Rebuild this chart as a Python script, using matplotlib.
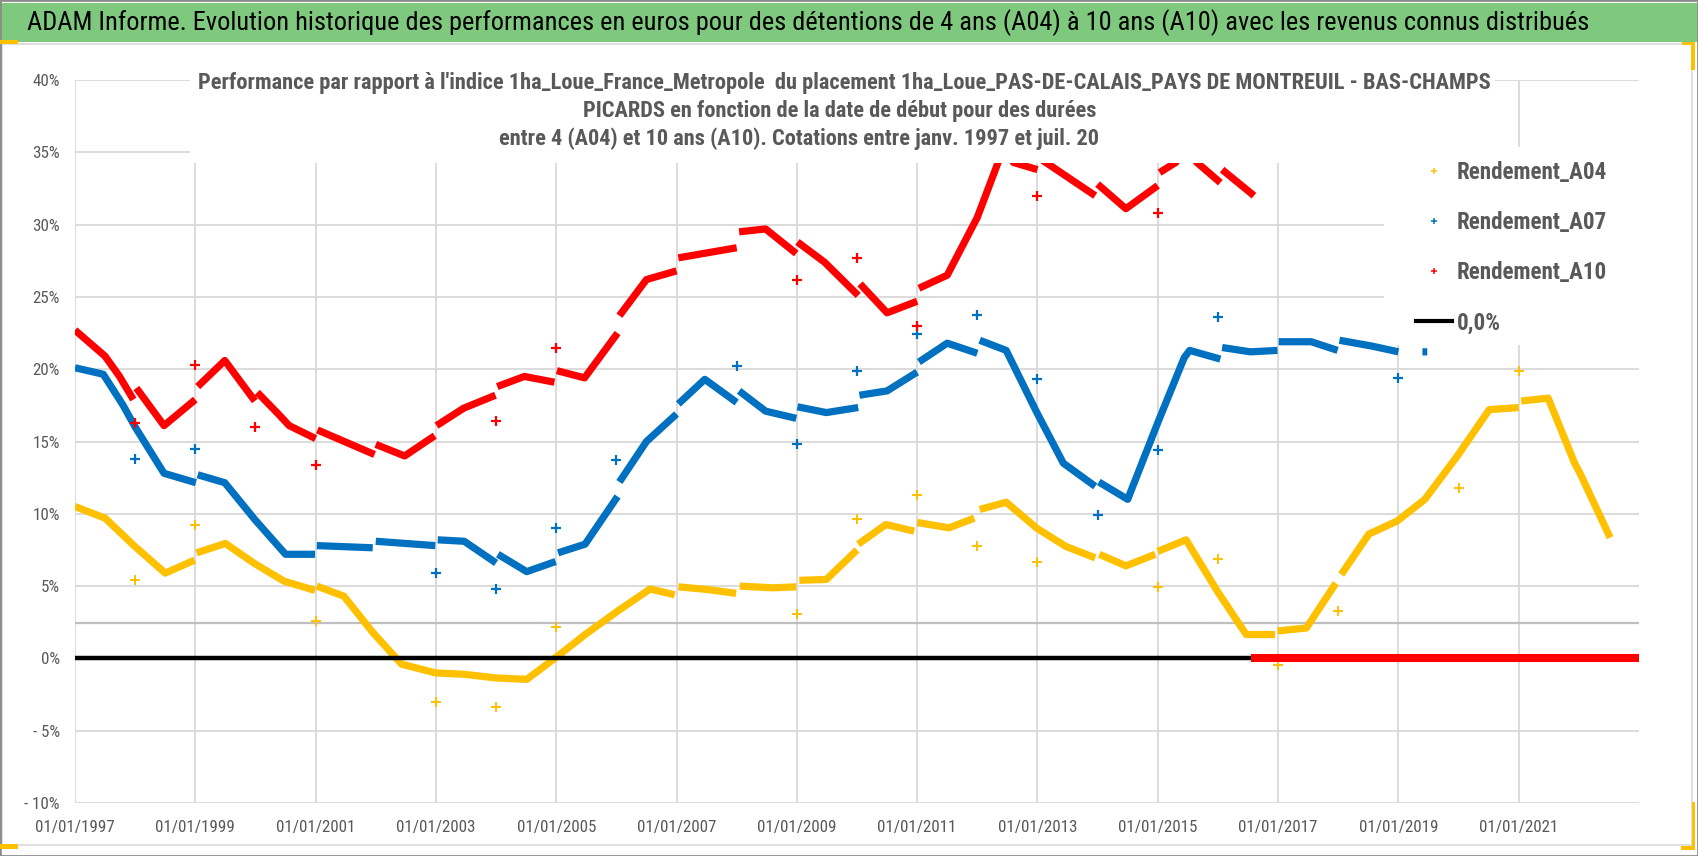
import numpy as np
import matplotlib
matplotlib.use("Agg")
import matplotlib.pyplot as plt
from matplotlib import font_manager
from matplotlib.patches import Rectangle
from matplotlib.lines import Line2D
from matplotlib.ticker import FixedLocator, FuncFormatter

nan = np.nan

# Rendement_A04 (yellow) - vertices, nan = visible break
a04_x = [1997.0, 1997.5, 1997.98, 1998.5, 1998.99, nan, 1999.02, 1999.5, 1999.97, 2000.47, 2000.99, nan,
         2001.02, 2001.47, 2001.95, 2002.43, 2002.99, 2003.47, 2004.0, 2004.51, 2004.99, 2005.48, 2006.03,
         2006.56, 2006.97, nan, 2007.03, 2007.5, 2007.99, nan, 2008.05, 2008.6, 2008.99, nan, 2009.04,
         2009.49, 2010.0, nan, 2010.02, 2010.48, 2010.95, nan, 2011.0, 2011.53, 2011.95, nan, 2012.04,
         2012.48, 2012.99, 2013.47, 2013.96, nan, 2014.03, 2014.47, 2014.96, nan, 2015.0, 2015.47, 2015.99,
         2016.47, 2016.95, nan, 2016.99, 2017.47, 2017.96, nan, 2018.05, 2018.51, 2018.98, 2019.44, 2019.98,
         2020.51, 2021.0, nan, 2021.04, 2021.49, 2021.93, 2022.02, 2022.52]
a04_y = [10.5, 9.7, 7.8, 5.9, 6.8, nan, 7.3, 7.95, 6.6, 5.35, 4.7, nan,
         5.0, 4.3, 1.8, -0.4, -1.0, -1.1, -1.35, -1.45, 0.05, 1.65, 3.3,
         4.8, 4.4, nan, 4.95, 4.77, 4.5, nan, 5.0, 4.88, 4.95, nan, 5.4,
         5.46, 7.5, nan, 7.9, 9.26, 8.8, nan, 9.4, 9.03, 9.7, nan, 10.3,
         10.8, 9.0, 7.75, 6.95, nan, 7.2, 6.4, 7.2, nan, 7.4, 8.2, 4.65,
         1.65, 1.65, nan, 1.9, 2.1, 5.2, nan, 5.8, 8.6, 9.5, 11.0, 14.0,
         17.2, 17.35, nan, 17.8, 18.0, 13.5, 12.8, 8.35]
a04_out_x = [1998, 1999, 2001, 2003, 2004, 2005, 2009, 2010, 2011, 2012, 2013, 2015, 2016, 2017, 2018, 2020, 2021]
a04_out_y = [5.4, 9.2, 2.6, -3.0, -3.35, 2.2, 3.05, 9.65, 11.3, 7.8, 6.7, 4.95, 6.85, -0.45, 3.3, 11.8, 19.9]

# Rendement_A07 (blue)
a07_x = [1997.0, 1997.47, 1997.8, 1998.0, 1998.48, 1999.01, nan, 1999.04, 1999.49, 1999.99, 2000.5, 2000.99, nan,
         2001.02, 2001.95, nan, 2002.0, 2002.99, nan, 2003.03, 2003.47, 2004.0, nan, 2004.03, 2004.51, 2004.99, nan,
         2005.03, 2005.48, 2006.02, nan, 2006.05, 2006.5, 2007.0, nan, 2007.03, 2007.47, 2008.0, nan, 2008.04,
         2008.48, 2008.99, nan, 2009.01, 2009.49, 2010.02, nan, 2010.04, 2010.5, 2011.0, nan, 2011.03, 2011.5,
         2012.0, nan, 2012.04, 2012.48, 2012.99, 2013.43, 2013.96, nan, 2014.02, 2014.5, 2015.0, 2015.44, 2015.53,
         2016.04, nan, 2016.07, 2016.54, 2016.99, nan, 2017.01, 2017.55, 2017.99, nan, 2018.02, 2018.56, 2019.0,
         nan, 2019.40, 2019.48]
a07_y = [20.1, 19.65, 17.5, 16.0, 12.8, 12.15, nan, 12.7, 12.15, 9.6, 7.2, 7.2, nan,
         7.8, 7.65, nan, 8.1, 7.8, nan, 8.2, 8.1, 6.6, nan, 7.2, 6.0, 6.7, nan,
         7.3, 7.9, 11.2, nan, 12.2, 15.0, 16.9, nan, 17.6, 19.3, 17.7, nan, 18.5,
         17.1, 16.6, nan, 17.4, 17.0, 17.35, nan, 18.2, 18.5, 19.8, nan, 20.5, 21.8,
         21.1, nan, 22.0, 21.3, 17.0, 13.5, 11.9, nan, 12.2, 11.0, 16.3, 20.8, 21.3,
         20.7, nan, 21.5, 21.2, 21.3, nan, 21.9, 21.9, 21.3, nan, 22.0, 21.6, 21.2,
         nan, 21.2, 21.2]
a07_out_x = [1998, 1999, 2003, 2004, 2005, 2006, 2008, 2009, 2010, 2011, 2012, 2013, 2014, 2015, 2016, 2019]
a07_out_y = [13.8, 14.5, 5.9, 4.8, 9.0, 13.7, 20.2, 14.85, 19.9, 22.4, 23.75, 19.3, 9.9, 14.4, 23.6, 19.4]

# Rendement_A10 (red)
a10_x = [1997.0, 1997.5, 1997.74, 1997.97, nan, 1998.02, 1998.48, 1999.0, nan, 1999.04, 1999.49, 1999.99, nan,
         2000.03, 2000.38, 2000.56, 2001.0, nan, 2001.03, 2001.98, nan, 2002.0, 2002.48, 2002.98, nan, 2003.01,
         2003.46, 2003.99, nan, 2004.02, 2004.47, 2004.97, nan, 2005.01, 2005.47, 2006.02, nan, 2006.05, 2006.5,
         2007.0, nan, 2007.03, 2008.0, nan, 2008.04, 2008.48, 2008.99, nan, 2009.01, 2009.46, 2010.02, nan,
         2010.05, 2010.5, 2011.0, nan, 2011.03, 2011.5, 2012.0, 2012.5, 2012.6, 2013.0, nan, 2013.03, 2013.96, nan,
         2014.0, 2014.47, 2015.0, nan, 2015.03, 2015.3, 2015.48, 2015.65, 2016.04, nan, 2016.07, 2016.6]
a10_y = [22.7, 20.9, 19.5, 17.9, nan, 18.7, 16.1, 17.9, nan, 18.8, 20.6, 17.8, nan,
         18.4, 16.9, 16.1, 15.2, nan, 15.8, 14.1, nan, 14.8, 14.0, 15.4, nan, 16.1,
         17.3, 18.2, nan, 18.8, 19.5, 19.1, nan, 19.9, 19.4, 22.5, nan, 23.7, 26.2,
         26.8, nan, 27.7, 28.4, nan, 29.5, 29.7, 28.0, nan, 28.8, 27.4, 25.1, nan,
         25.9, 23.9, 24.7, nan, 25.6, 26.5, 30.5, 36.0, 34.3, 33.8, nan, 34.6, 32.0, nan,
         32.8, 31.1, 32.7, nan, 33.6, 34.3, 35.5, 34.3, 32.9, nan, 33.8, 32.0]
a10_out_x = [1998, 1999, 2000, 2001, 2004, 2005, 2009, 2010, 2011, 2013, 2015]
a10_out_y = [16.3, 20.3, 16.0, 13.4, 16.4, 21.5, 26.2, 27.7, 23.0, 32.0, 30.8]
# A10 values reported as 0 at the end of the period
a10_zero_x = [2016.55, 2023.0]
a10_zero_y = [0.0, 0.0]

zero_x = [1997.0, 2023.0]
zero_y = [0.0, 0.0]
ref_level = 2.45

labels = ["Rendement_A04", "Rendement_A07", "Rendement_A10", "0,0%"]
colors = ["#ffc000", "#0070c0", "#ff0000", "#000000"]

title = ("ADAM Informe. Evolution historique des performances en euros pour des détentions "
         "de 4 ans (A04) à 10 ans (A10) avec les revenus connus distribués")
sub_lines = ["Performance par rapport à l'indice 1ha_Loue_France_Metropole  du placement "
             "1ha_Loue_PAS-DE-CALAIS_PAYS DE MONTREUIL - BAS-CHAMPS",
             "PICARDS en fonction de la date de début pour des durées",
             "entre 4 (A04) et 10 ans (A10). Cotations entre janv. 1997 et juil. 20"]

# narrow face if one is around
names = {f.name for f in font_manager.fontManager.ttflist}
FONT = "DejaVu Sans"
for cand in ["Roboto Condensed", "Liberation Sans Narrow", "Open Sans Condensed"]:
    if cand in names:
        FONT = cand
        break
plt.rcParams["font.family"] = [FONT, "DejaVu Sans"]

W, H = 1698, 856


def fx(x):
    return x / W


def fy(y):
    return 1 - y / H


fig = plt.figure(figsize=(W / 100, H / 100), dpi=100)
fig.patch.set_facecolor("white")
renderer = fig.canvas.get_renderer()


def width_for(text, size, weight="normal"):
    t = fig.text(0, 0, text, fontsize=size, weight=weight)
    w = t.get_window_extent(renderer).width
    t.remove()
    return w


def fitted(text, target, weight="normal"):
    return 10 * target / width_for(text, 10, weight)


tick_size = fitted("01/01/1997", 79)
leg_size = fitted("Rendement_A04", 150, "bold")

ax = fig.add_axes([fx(75), fy(803), (1639 - 75) / W, (803 - 80) / H])
ax.set_xlim(1997, 2023)
ax.set_ylim(-10, 40)
ax.xaxis.set_major_locator(FixedLocator(list(range(1997, 2022, 2))))
ax.xaxis.set_major_formatter(FuncFormatter(lambda v, p: "01/01/%d" % round(v)))
ax.yaxis.set_major_locator(FixedLocator(list(range(-10, 41, 5))))
ax.yaxis.set_major_formatter(FuncFormatter(lambda v, p: ("- %d%%" % -v) if v < 0 else "%d%%" % v))
ax.grid(True, color="#d9d9d9", lw=1.3, zorder=0)
ax.set_axisbelow(True)
for s in ax.spines.values():
    s.set_visible(False)
ax.tick_params(length=0, labelsize=tick_size, labelcolor="#595959")
ax.tick_params(axis="x", pad=12)
ax.tick_params(axis="y", pad=11)

ax.axhline(ref_level, color="#bfbfbf", lw=1.6, zorder=1)

lw = 5.2
ax.plot(a04_x, a04_y, color=colors[0], lw=lw, solid_capstyle="butt", zorder=3)
ax.plot(a07_x, a07_y, color=colors[1], lw=lw, solid_capstyle="butt", zorder=3)
ax.plot(a10_x, a10_y, color=colors[2], lw=lw, solid_capstyle="butt", zorder=3)
ax.plot(a04_out_x, a04_out_y, ls="none", marker="+", ms=6.5, mew=1.4, color=colors[0], zorder=3)
ax.plot(a07_out_x, a07_out_y, ls="none", marker="+", ms=6.5, mew=1.6, color=colors[1], zorder=3)
ax.plot(a10_out_x, a10_out_y, ls="none", marker="+", ms=6.5, mew=1.6, color=colors[2], zorder=3)
ax.plot(zero_x, zero_y, color="black", lw=3.2, zorder=4)
ax.plot(a10_zero_x, a10_zero_y, color=colors[2], lw=lw + 0.6, solid_capstyle="butt", zorder=5)

# frame, banner and decorations
fig.add_artist(Rectangle((fx(2), fy(845)), (1692 - 2) / W, (845 - 44) / H, fill=False,
                         ec="#d9d9d9", lw=1.2, transform=fig.transFigure, zorder=1))
fig.add_artist(Rectangle((0, fy(42)), 1, (42 - 3) / H, fc="#7fc97f", ec="none",
                         transform=fig.transFigure, zorder=1))
fig.add_artist(Rectangle((0, 0), 1, 1, fill=False, ec="#8c8c8c", lw=2,
                         transform=fig.transFigure, zorder=6))
for (x0, y0, x1, y1) in [(0, 40, 18, 44), (0, 844, 18, 849), (1691, 42, 1695, 70), (1682, 42, 1695, 45),
                         (1692, 802, 1695, 850), (1681, 846, 1695, 850)]:
    fig.add_artist(Rectangle((fx(x0), fy(y1)), (x1 - x0) / W, (y1 - y0) / H, fc="#ffc000", ec="none",
                             transform=fig.transFigure, zorder=6))

fig.text(fx(27), fy(23), title, fontsize=fitted(title, 1548), color="black", ha="left", va="center",
         zorder=3)

# chart title box
fig.add_artist(Rectangle((fx(190), fy(163)), (1495 - 190) / W, (163 - 62) / H, fc="white", ec="none",
                         transform=fig.transFigure, zorder=2))
sub_size = fitted(sub_lines[0], 1292, "bold")
for txt, cx, cy in zip(sub_lines, [844, 840, 799], [83, 111, 139]):
    fig.text(fx(cx), fy(cy), txt, fontsize=sub_size, weight="bold", color="#595959", ha="center",
             va="center", zorder=3)

# legend
fig.add_artist(Rectangle((fx(1384), fy(345)), (1645 - 1384) / W, (345 - 147) / H, fc="white", ec="none",
                         transform=fig.transFigure, zorder=2))
handles = [Line2D([], [], ls="none", marker="+", ms=5, mew=1.1, color=c) for c in colors[:3]]
handles.append(Line2D([], [], color="black", lw=3))
leg_px = leg_size * 100 / 72


def make_legend(spacing, top):
    return fig.legend(handles, labels, loc="upper left", bbox_to_anchor=(fx(1416), fy(top)), frameon=False,
                      prop={"size": leg_size, "weight": "bold"}, labelcolor="#595959", borderpad=0,
                      borderaxespad=0, handlelength=36 / leg_px, handletextpad=5 / leg_px,
                      labelspacing=spacing)


# place rows at y = 173, 223, 273, 323
spacing, top = 1.25, 160
for _ in range(3):
    leg = make_legend(spacing, top)
    fig.canvas.draw()
    ys = [H - (t.get_window_extent(renderer).y0 + t.get_window_extent(renderer).y1) / 2 for t in leg.get_texts()]
    pitch = (ys[-1] - ys[0]) / 3
    spacing += (50 - pitch) / leg_px
    top += 173 - ys[0]
    leg.remove()
make_legend(spacing, top)

fig.savefig("out.png", dpi=100, facecolor="white")
